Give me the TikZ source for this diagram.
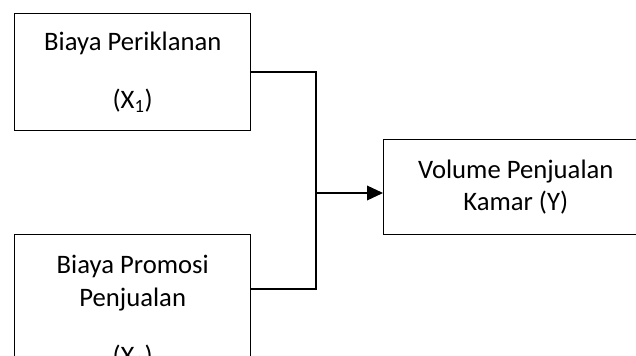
\documentclass[tikz,border=0pt]{standalone}
\usepackage{fontspec}
\setmainfont{Carlito}
\usetikzlibrary{arrows.meta,calc}

\tikzset{
  varbox/.style={draw,line width=1.1pt,align=center,inner sep=0pt,anchor=north west,
    font=\fontsize{20pt}{24.4pt}\selectfont},
  link/.style={line width=1.1pt},
}

\begin{document}
\begin{tikzpicture}[x=0.75pt,y=-0.75pt]
      \useasboundingbox (0,0) rectangle (636,356);
      \clip (0,0) rectangle (636,356);

      \node[varbox,minimum width=177pt,minimum height=87.75pt] (x1) at (14,13)
        {Biaya Periklanan\\[19pt] (X\textsubscript{1})};
      \node[varbox,minimum width=177pt,minimum height=115.5pt] (x2) at (14,234)
        {Biaya Promosi\\ Penjualan\\[19pt] (X\textsubscript{2})};
      \node[varbox,minimum width=198pt,minimum height=71.25pt] (y) at (383,139)
        {Volume Penjualan\\ Kamar (Y)};

      \coordinate (join) at (316,193);
      \coordinate (x2out) at ($(x2.north east)+(0,55)$);

      \draw[link] (x1.east) -| (join);
      \draw[link] (x2out) -| (join);
      \draw[link,-{Triangle[length=12pt,width=11pt]}] (join) -- (join -| y.west);
\end{tikzpicture}
\end{document}
